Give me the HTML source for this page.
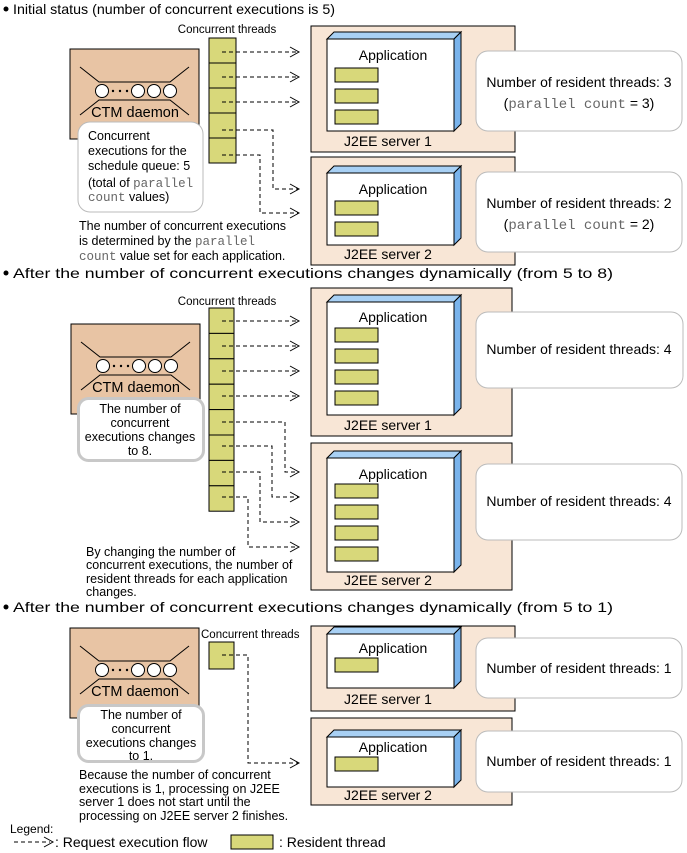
<!DOCTYPE html>
<html><head><meta charset="utf-8"><style>
html,body{margin:0;padding:0;background:#fff;}
svg{display:block;font-family:"Liberation Sans",sans-serif;}
.m{font-family:"Liberation Mono",monospace;fill:#666;}
</style></head><body>
<svg width="687" height="853" viewBox="0 0 687 853" xmlns="http://www.w3.org/2000/svg">
<defs>
<g id="ctm">
<rect x="0" y="0" width="129" height="90" fill="#e8c4a4" stroke="#000" stroke-width="1"/>
<polyline points="10,18 29,33 100,33 119,18" fill="none" stroke="#000"/>
<polyline points="10,66 29,51 100,51 119,66" fill="none" stroke="#000"/>
<circle cx="32" cy="42" r="6.5" fill="#fff" stroke="#000"/>
<circle cx="68" cy="42" r="6.5" fill="#fff" stroke="#000"/>
<circle cx="84" cy="42" r="6.5" fill="#fff" stroke="#000"/>
<circle cx="100" cy="42" r="6.5" fill="#fff" stroke="#000"/>
<circle cx="43" cy="42" r="1.2"/><circle cx="50" cy="42" r="1.2"/><circle cx="57" cy="42" r="1.2"/>
<text x="65" y="68" font-size="14.5" text-anchor="middle">CTM daemon</text>
</g>
</defs>
<g font-size="13" fill="#000">
<!-- Section 1 -->
<circle cx="6" cy="9" r="2.5"/>
<text x="13" y="14" font-size="14" textLength="322" lengthAdjust="spacingAndGlyphs">Initial status (number of concurrent executions is 5)</text>
<text x="227" y="33" font-size="11.5" text-anchor="middle">Concurrent threads</text>
<use href="#ctm" x="70" y="49"/>
<rect x="78" y="122" width="125" height="90" rx="12" fill="#fff" stroke="#bbb"/>
<text font-size="12.5"><tspan x="88" y="140">Concurrent</tspan><tspan x="88" y="155">executions for the</tspan><tspan x="88" y="170">schedule queue: 5</tspan><tspan x="88" y="187">(total of <tspan class="m">parallel</tspan></tspan><tspan x="88" y="201"><tspan class="m">count</tspan> values)</tspan></text>
<g fill="#d8d87a" stroke="#000"><rect x="209" y="38" width="27" height="25"/><rect x="209" y="63" width="27" height="25"/><rect x="209" y="88" width="27" height="25"/><rect x="209" y="113" width="27" height="25"/><rect x="209" y="138" width="27" height="25"/></g>
<g fill="none" stroke="#000" stroke-dasharray="4,3">
<path d="M222 52H298M222 77H298M222 102H298M222 130H273V189H298M222 155H260V213H298"/>
</g>
<g fill="none" stroke="#000"><path d="M290 47L299 52L290 57M290 72L299 77L290 82M290 97L299 102L290 107M290 184L299 189L290 194M290 208L299 213L290 218"/></g>
<text font-size="12.5"><tspan x="79" y="230">The number of concurrent executions</tspan><tspan x="79" y="245">is determined by the <tspan class="m">parallel</tspan></tspan><tspan x="79" y="260"><tspan class="m">count</tspan> value set for each application.</tspan></text>

<!-- servers sec1 -->
<rect x="311" y="26" width="204" height="126" fill="#f8e6d6" stroke="#000"/>
<path d="M327 39L334 32H461L454 39Z" fill="#a8d0f4" stroke="#000"/><path d="M454 39L461 32V124L454 131Z" fill="#7ab4ec" stroke="#000"/>
<rect x="327" y="39" width="127" height="92" fill="#fff" stroke="#000"/>
<text x="393" y="60" text-anchor="middle" font-size="14">Application</text>
<g fill="#d8d87a" stroke="#000"><rect x="335" y="68" width="43" height="14"/><rect x="335" y="89" width="43" height="14"/><rect x="335" y="110" width="43" height="14"/></g>
<text x="388" y="146" text-anchor="middle" font-size="14">J2EE server 1</text>
<rect x="476" y="51" width="206" height="80" rx="12" fill="#fff" stroke="#bbb"/>
<text x="579" y="87" text-anchor="middle" font-size="14">Number of resident threads: 3</text>
<text x="579" y="108" text-anchor="middle" font-size="14">(<tspan class="m">parallel count</tspan> = 3)</text>

<rect x="311" y="157" width="204" height="108" fill="#f8e6d6" stroke="#000"/>
<path d="M327 173L334 166H461L454 173Z" fill="#a8d0f4" stroke="#000"/><path d="M454 173L461 166V238L454 245Z" fill="#7ab4ec" stroke="#000"/>
<rect x="327" y="173" width="127" height="72" fill="#fff" stroke="#000"/>
<text x="393" y="194" text-anchor="middle" font-size="14">Application</text>
<g fill="#d8d87a" stroke="#000"><rect x="335" y="201" width="43" height="14"/><rect x="335" y="222" width="43" height="14"/></g>
<text x="388" y="259" text-anchor="middle" font-size="14">J2EE server 2</text>
<rect x="476" y="172" width="206" height="80" rx="12" fill="#fff" stroke="#bbb"/>
<text x="579" y="208" text-anchor="middle" font-size="14">Number of resident threads: 2</text>
<text x="579" y="229" text-anchor="middle" font-size="14">(<tspan class="m">parallel count</tspan> = 2)</text>

<!-- Section 2 -->
<circle cx="6" cy="273" r="2.5"/>
<text x="13" y="278" font-size="14" textLength="600" lengthAdjust="spacingAndGlyphs">After the number of concurrent executions changes dynamically (from 5 to 8)</text>
<text x="227" y="305" font-size="11.5" text-anchor="middle">Concurrent threads</text>
<use href="#ctm" x="71" y="324"/>
<rect x="78.5" y="398.5" width="125" height="62" rx="10" fill="#fff" stroke="#c8c8c8" stroke-width="3"/>
<text font-size="12.5" text-anchor="middle"><tspan x="140" y="413">The number of</tspan><tspan x="140" y="427">concurrent</tspan><tspan x="140" y="441">executions changes</tspan><tspan x="140" y="455">to 8.</tspan></text>
<g fill="#d8d87a" stroke="#000"><rect x="209" y="308" width="25" height="25.4"/><rect x="209" y="333.4" width="25" height="25.4"/><rect x="209" y="358.8" width="25" height="25.4"/><rect x="209" y="384.2" width="25" height="25.4"/><rect x="209" y="409.6" width="25" height="25.4"/><rect x="209" y="435" width="25" height="25.4"/><rect x="209" y="460.4" width="25" height="25.4"/><rect x="209" y="485.8" width="25" height="25.4"/></g>
<g fill="none" stroke="#000" stroke-dasharray="4,3">
<path d="M222 321H298M222 346H298M222 371H298M222 396H298M222 422H285V472H298M222 446H272V497H298M222 472H260V522H298M222 497H248V547H298"/>
</g>
<g fill="none" stroke="#000"><path d="M290 316L299 321L290 326M290 341L299 346L290 351M290 366L299 371L290 376M290 391L299 396L290 401M290 467L299 472L290 477M290 492L299 497L290 502M290 517L299 522L290 527M290 542L299 547L290 552"/></g>
<text font-size="12.5"><tspan x="86" y="556">By changing the number of</tspan><tspan x="86" y="569">concurrent executions, the number of</tspan><tspan x="86" y="583">resident threads for each application</tspan><tspan x="86" y="596">changes.</tspan></text>

<rect x="311" y="288" width="201" height="148" fill="#f8e6d6" stroke="#000"/>
<path d="M327 302L334 295H461L454 302Z" fill="#a8d0f4" stroke="#000"/><path d="M454 302L461 295V408L454 415Z" fill="#7ab4ec" stroke="#000"/>
<rect x="327" y="302" width="127" height="113" fill="#fff" stroke="#000"/>
<text x="393" y="322" text-anchor="middle" font-size="14">Application</text>
<g fill="#d8d87a" stroke="#000"><rect x="335" y="328" width="43" height="14"/><rect x="335" y="349" width="43" height="14"/><rect x="335" y="370" width="43" height="14"/><rect x="335" y="391" width="43" height="14"/></g>
<text x="388" y="430" text-anchor="middle" font-size="14">J2EE server 1</text>
<rect x="476" y="312" width="207" height="76" rx="12" fill="#fff" stroke="#bbb"/>
<text x="579" y="354" text-anchor="middle" font-size="14">Number of resident threads: 4</text>

<rect x="311" y="443" width="201" height="147" fill="#f8e6d6" stroke="#000"/>
<path d="M327 458L334 451H461L454 458Z" fill="#a8d0f4" stroke="#000"/><path d="M454 458L461 451V565L454 572Z" fill="#7ab4ec" stroke="#000"/>
<rect x="327" y="458" width="127" height="114" fill="#fff" stroke="#000"/>
<text x="393" y="479" text-anchor="middle" font-size="14">Application</text>
<g fill="#d8d87a" stroke="#000"><rect x="335" y="484" width="43" height="14"/><rect x="335" y="505" width="43" height="14"/><rect x="335" y="526" width="43" height="14"/><rect x="335" y="547" width="43" height="14"/></g>
<text x="388" y="585" text-anchor="middle" font-size="14">J2EE server 2</text>
<rect x="476" y="464" width="206" height="76" rx="12" fill="#fff" stroke="#bbb"/>
<text x="579" y="506" text-anchor="middle" font-size="14">Number of resident threads: 4</text>

<!-- Section 3 -->
<circle cx="6" cy="607" r="2.5"/>
<text x="13" y="612" font-size="14" textLength="600" lengthAdjust="spacingAndGlyphs">After the number of concurrent executions changes dynamically (from 5 to 1)</text>
<text x="201" y="638" font-size="11.5">Concurrent threads</text>
<use href="#ctm" x="70" y="628"/>
<rect x="78.5" y="705.5" width="125" height="56" rx="10" fill="#fff" stroke="#c8c8c8" stroke-width="3"/>
<text font-size="12.5" text-anchor="middle"><tspan x="141" y="719">The number of</tspan><tspan x="141" y="733">concurrent</tspan><tspan x="141" y="747">executions changes</tspan><tspan x="141" y="760">to 1.</tspan></text>
<rect x="209" y="642" width="25" height="27" fill="#d8d87a" stroke="#000"/>
<path d="M222 655H248V763H298" fill="none" stroke="#000" stroke-dasharray="4,3"/>
<path d="M290 758L299 763L290 768" fill="none" stroke="#000"/>
<text font-size="12.5"><tspan x="79" y="779">Because the number of concurrent</tspan><tspan x="79" y="793">executions is 1, processing on J2EE</tspan><tspan x="79" y="806">server 1 does not start until the</tspan><tspan x="79" y="820">processing on J2EE server 2 finishes.</tspan></text>

<rect x="311" y="626" width="204" height="85" fill="#f8e6d6" stroke="#000"/>
<path d="M327 634L334 627H461L454 634Z" fill="#a8d0f4" stroke="#000"/><path d="M454 634L461 627V681L454 688Z" fill="#7ab4ec" stroke="#000"/>
<rect x="327" y="634" width="127" height="54" fill="#fff" stroke="#000"/>
<text x="393" y="653" text-anchor="middle" font-size="14">Application</text>
<rect x="335" y="658" width="43" height="14" fill="#d8d87a" stroke="#000"/>
<text x="388" y="704" text-anchor="middle" font-size="14">J2EE server 1</text>
<rect x="476" y="638" width="206" height="60" rx="12" fill="#fff" stroke="#bbb"/>
<text x="579" y="673" text-anchor="middle" font-size="14">Number of resident threads: 1</text>

<rect x="311" y="718" width="201" height="87" fill="#f8e6d6" stroke="#000"/>
<path d="M327 737L334 730H461L454 737Z" fill="#a8d0f4" stroke="#000"/><path d="M454 737L461 730V780L454 787Z" fill="#7ab4ec" stroke="#000"/>
<rect x="327" y="737" width="127" height="50" fill="#fff" stroke="#000"/>
<text x="393" y="752" text-anchor="middle" font-size="14">Application</text>
<rect x="335" y="757" width="43" height="14" fill="#d8d87a" stroke="#000"/>
<text x="388" y="800" text-anchor="middle" font-size="14">J2EE server 2</text>
<rect x="476" y="731" width="206" height="61" rx="12" fill="#fff" stroke="#bbb"/>
<text x="579" y="766" text-anchor="middle" font-size="14">Number of resident threads: 1</text>

<!-- Legend -->
<text x="10" y="833" font-size="12">Legend:</text>
<path d="M14 842H50" fill="none" stroke="#000" stroke-dasharray="4,3"/>
<path d="M44 837L53 842L44 847" fill="none" stroke="#000"/>
<text x="55" y="847" font-size="14">: Request execution flow</text>
<rect x="231" y="835" width="42" height="14" fill="#d8d87a" stroke="#000"/>
<text x="279" y="847" font-size="14">: Resident thread</text>
</g>
</svg>
</body></html>
